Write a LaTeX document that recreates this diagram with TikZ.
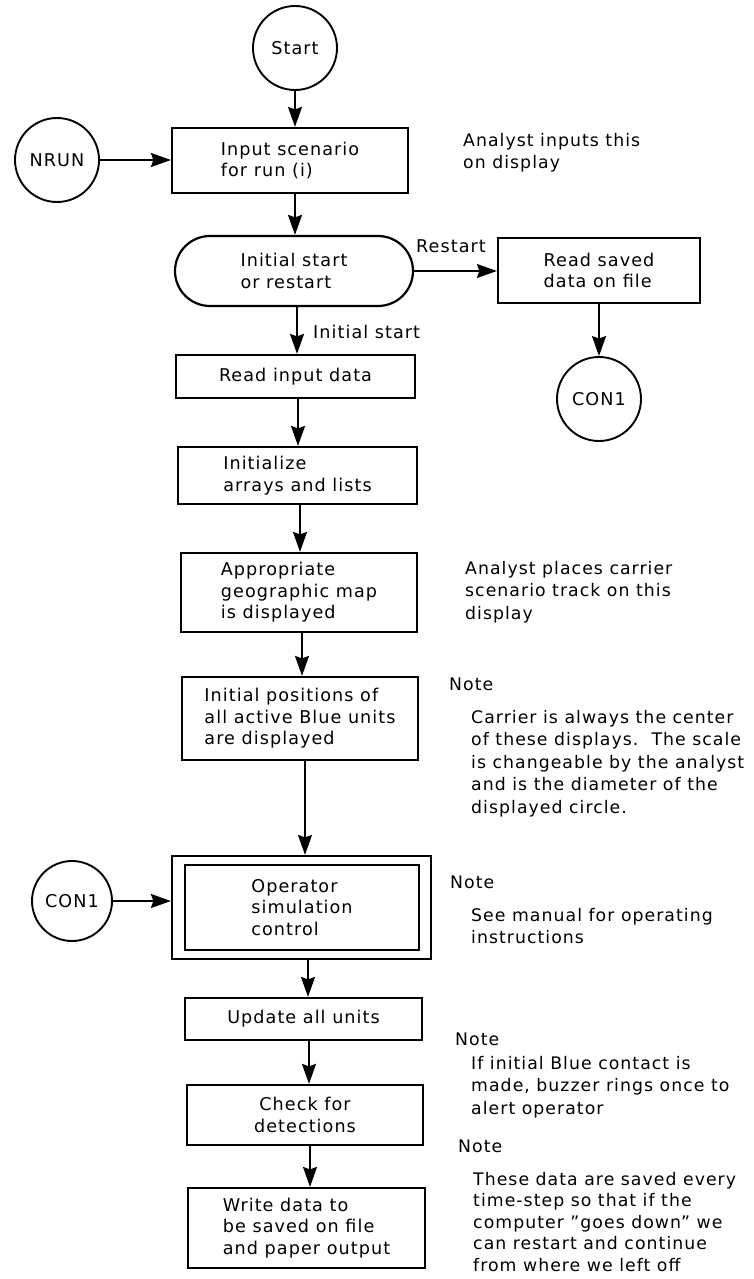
\documentclass[tikz,border=0pt]{standalone}
\usepackage{fontspec}
\setmainfont{DejaVu Sans}[LetterSpace=6]
\usetikzlibrary{arrows.meta}
\begin{document}
\begin{tikzpicture}[x=1pt,y=-1pt,
  every node/.style={font=\fontsize{17.6}{21.5}\selectfont},
  proc/.style={draw, line width=2.2pt, inner sep=0pt, align=left},
  term/.style={draw, circle, line width=1.9pt, inner sep=0pt, minimum size=84pt},
  flow/.style={line width=1.8pt, -{Stealth[length=20pt,width=14pt,inset=2.5pt]}},
  note/.style={anchor=north west, inner sep=0pt, align=left, font=\fontsize{17.3}{22.5}\selectfont},
  tag/.style={inner sep=0pt}
]
\useasboundingbox (0,0) rectangle (753,1279);

% main column
\node[term] (start) at (295,48) {Start};
\node[term] (nrun) at (57,160) {NRUN};
\node[proc, minimum width=236pt, minimum height=65pt] (input) at (290,160.5) {Input scenario\\for run (i)};
\node[proc, rounded corners=35pt, minimum width=238pt, minimum height=70pt] (choice) at (294,271) {Initial start\\or restart};
\node[proc, minimum width=202pt, minimum height=65pt] (saved) at (599,270.5) {Read saved\\data on file};
\node[term] (con1r) at (599,399) {CON1};
\node[proc, minimum width=239pt, minimum height=43pt] (readinput) at (295.5,376.5) {Read input data};
\node[proc, minimum width=239pt, minimum height=57pt] (init) at (297.5,475.5) {Initialize\\arrays and lists};
\node[proc, minimum width=236pt, minimum height=79pt] (map) at (299,592.5) {Appropriate\\geographic map\\is displayed};
\node[proc, minimum width=236pt, minimum height=83pt] (blue) at (300,718.5) {Initial positions of\\all active Blue units\\are displayed};
\node[proc, minimum width=259pt, minimum height=103pt] (opouter) at (301.5,907.5) {};
\node[proc, minimum width=234pt, minimum height=85pt] (operator) at (302,907.5) {Operator\\simulation\\control};
\node[term, minimum size=80pt] (con1l) at (72,901) {CON1};
\node[proc, minimum width=237pt, minimum height=42pt] (update) at (303.5,1019) {Update all units};
\node[proc, align=center, minimum width=236pt, minimum height=60pt] (check) at (305,1115) {Check for\\detections};
\node[proc, minimum width=237pt, minimum height=80pt] (write) at (306.5,1228) {Write data to\\be saved on file\\and paper output};

% arrow columns
\coordinate (a2) at (297,0);
\coordinate (a3) at (298,0);
\coordinate (a4) at (300,0);
\coordinate (a5) at (302,0);
\coordinate (a6) at (305,0);
\coordinate (a7) at (308,0);
\coordinate (a8) at (309,0);
\coordinate (a9) at (310,0);

\draw[flow] (start.south) -- (input.north -| start);
\draw[flow] (input.south -| start) -- (choice.north -| start);
\draw[flow] (choice.south -| a2) -- (readinput.north -| a2);
\draw[flow] (readinput.south -| a3) -- (init.north -| a3);
\draw[flow] (init.south -| a4) -- (map.north -| a4);
\draw[flow] (map.south -| a5) -- (blue.north -| a5);
\draw[flow] (blue.south -| a6) -- (opouter.north -| a6);
\draw[flow] (opouter.south -| a7) -- (update.north -| a7);
\draw[flow] (update.south -| a8) -- (check.north -| a8);
\draw[flow] (check.south -| a9) -- (write.north -| a9);

\draw[flow] (nrun.east) -- (input.west |- nrun.east);
\draw[flow] (choice.east) -- (saved.west |- choice.east);
\draw[flow] (saved.south) -- (con1r.north);
\draw[flow] (con1l.east) -- (opouter.west |- con1l.east);

\node[tag] (lrestart) at (451,246) {Restart};
\node[tag, anchor=west] (linit) at (313,332) {Initial start};

% remarks
\node[note] (n1) at (463,133) {Analyst inputs this\\on display};
\node[note] (n2) at (465,561) {Analyst places carrier\\scenario track on this\\display};
\node[note] (h3) at (449,678) {Note};
\node[note] (n3) at (471,710) {Carrier is always the center\\of these displays.\ \ The scale\\is changeable by the analyst\\and is the diameter of the\\displayed circle.};
\node[note] (h4) at (450,876) {Note};
\node[note] (n4) at (471,908) {See manual for operating\\instructions};
\node[note] (h5) at (455,1033) {Note};
\node[note] (n5) at (471,1056) {If initial Blue contact is\\made, buzzer rings once to\\alert operator};
\node[note] (h6) at (458,1140) {Note};
\node[note, font=\fontsize{17.3}{21.5}\selectfont] (n6) at (473,1172) {These data are saved every\\time-step so that if the\\computer ''goes down'' we\\can restart and continue\\from where we left off};
\end{tikzpicture}
\end{document}
